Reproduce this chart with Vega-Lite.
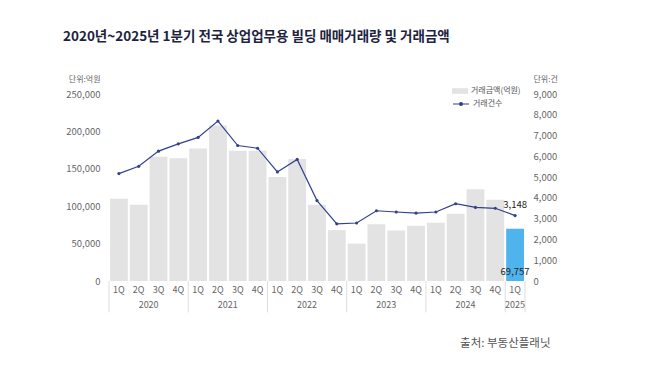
{
"$schema": "https://vega.github.io/schema/vega-lite/v6.json",
"width": 416, "height": 187,
"autosize": {"type": "none"},
"padding": {"left": 109, "top": 94, "right": 133, "bottom": 88},
"background": "white",
"config": {"font": "Noto Sans CJK KR", "view": {"stroke": null}},
"title": {"text": "2020년~2025년 1분기 전국 상업업무용 빌딩 매매거래량 및 거래금액", "anchor": "start", "frame": "group", "dx": -46, "offset": 32, "fontSize": 13.5, "fontWeight": "bold", "color": "#1c2340", "font": "Noto Sans CJK KR"},
"data": {"values": [
{"key": "2020 1Q", "q": "1Q", "year": "2020", "amount": 110000, "count": 5170},
{"key": "2020 2Q", "q": "2Q", "year": "2020", "amount": 102000, "count": 5520},
{"key": "2020 3Q", "q": "3Q", "year": "2020", "amount": 166000, "count": 6250},
{"key": "2020 4Q", "q": "4Q", "year": "2020", "amount": 164000, "count": 6600},
{"key": "2021 1Q", "q": "1Q", "year": "2021", "amount": 177000, "count": 6910},
{"key": "2021 2Q", "q": "2Q", "year": "2021", "amount": 208000, "count": 7700},
{"key": "2021 3Q", "q": "3Q", "year": "2021", "amount": 174000, "count": 6520},
{"key": "2021 4Q", "q": "4Q", "year": "2021", "amount": 174000, "count": 6390},
{"key": "2022 1Q", "q": "1Q", "year": "2022", "amount": 139000, "count": 5250},
{"key": "2022 2Q", "q": "2Q", "year": "2022", "amount": 163000, "count": 5850},
{"key": "2022 3Q", "q": "3Q", "year": "2022", "amount": 102000, "count": 3870},
{"key": "2022 4Q", "q": "4Q", "year": "2022", "amount": 68000, "count": 2750},
{"key": "2023 1Q", "q": "1Q", "year": "2023", "amount": 50000, "count": 2790},
{"key": "2023 2Q", "q": "2Q", "year": "2023", "amount": 76000, "count": 3380},
{"key": "2023 3Q", "q": "3Q", "year": "2023", "amount": 67500, "count": 3320},
{"key": "2023 4Q", "q": "4Q", "year": "2023", "amount": 74000, "count": 3270},
{"key": "2024 1Q", "q": "1Q", "year": "2024", "amount": 78000, "count": 3320},
{"key": "2024 2Q", "q": "2Q", "year": "2024", "amount": 90000, "count": 3720},
{"key": "2024 3Q", "q": "3Q", "year": "2024", "amount": 122500, "count": 3540},
{"key": "2024 4Q", "q": "4Q", "year": "2024", "amount": 108500, "count": 3500},
{"key": "2025 1Q", "q": "1Q", "year": "2025", "amount": 69757, "count": 3148}
]},
"encoding": {
  "x": {"field": "key", "type": "nominal", "scale": {"paddingInner": 0, "paddingOuter": 0},
    "axis": {"domain": false, "ticks": false, "labelAngle": 0, "labelExpr": "split(datum.value, ' ')[1]", "labelFontSize": 9, "labelColor": "#666666", "labelPadding": 4,
      "title": "출처: 부동산플래닛", "titleX": 441, "titleY": 62, "titleAlign": "right", "titleBaseline": "middle", "titleFontSize": 11.5, "titleFontWeight": "normal", "titleColor": "#555555"}}
},
"layer": [
  {"layer": [
    {"transform": [{"filter": "datum.q === '1Q'"}],
     "mark": {"type": "rule", "color": "#dddddd", "strokeWidth": 1},
     "encoding": {"x": {"field": "key", "type": "nominal", "bandPosition": 0},
       "y": {"datum": 0, "type": "quantitative", "scale": {"domain": [0, 250000]},
         "axis": {"orient": "left", "values": [0, 50000, 100000, 150000, 200000, 250000], "labelExpr": "format(datum.value, ',')", "grid": false, "domain": false, "ticks": false, "labelFontSize": 9.5, "labelColor": "#666666", "labelPadding": 9,
           "title": "단위:억원", "titleAngle": 0, "titleAlign": "right", "titleX": -9, "titleY": -15, "titleBaseline": "middle", "titleFontSize": 8, "titleFontWeight": "normal", "titleColor": "#666666"}},
       "y2": {"datum": -42000}}},
    {"transform": [{"filter": "datum.key === '2025 1Q'"}],
     "mark": {"type": "rule", "color": "#dddddd", "strokeWidth": 1},
     "encoding": {"x": {"field": "key", "type": "nominal", "bandPosition": 1},
       "y": {"datum": 0, "type": "quantitative", "scale": {"domain": [0, 250000]},
         "axis": {"orient": "left", "values": [0, 50000, 100000, 150000, 200000, 250000], "labelExpr": "format(datum.value, ',')", "grid": false, "domain": false, "ticks": false, "labelFontSize": 9.5, "labelColor": "#666666", "labelPadding": 9,
           "title": "단위:억원", "titleAngle": 0, "titleAlign": "right", "titleX": -9, "titleY": -15, "titleBaseline": "middle", "titleFontSize": 8, "titleFontWeight": "normal", "titleColor": "#666666"}},
       "y2": {"datum": -42000}}},
    {"mark": {"type": "bar", "width": {"band": 0.9}},
     "encoding": {
       "y": {"field": "amount", "type": "quantitative", "scale": {"domain": [0, 250000]},
         "axis": {"orient": "left", "values": [0, 50000, 100000, 150000, 200000, 250000], "labelExpr": "format(datum.value, ',')", "grid": false, "domain": false, "ticks": false, "labelFontSize": 9.5, "labelColor": "#666666", "labelPadding": 9,
           "title": "단위:억원", "titleAngle": 0, "titleAlign": "right", "titleX": -9, "titleY": -15, "titleBaseline": "middle", "titleFontSize": 8, "titleFontWeight": "normal", "titleColor": "#666666"}},
       "fill": {"condition": {"test": "datum.key === '2025 1Q'", "value": "#4fb3ee"}, "datum": "거래금액(억원)", "type": "nominal",
         "scale": {"range": ["#e3e3e3"]},
         "legend": {"orient": "none", "legendX": 343, "legendY": -11, "title": null, "padding": 0, "symbolType": "M-1,-0.35H1V0.35H-1Z", "symbolSize": 256, "symbolStrokeWidth": 0, "labelFontSize": 8, "labelColor": "#555555", "labelOffset": 3}}
     }},
    {"transform": [{"filter": "datum.key === '2025 1Q'"}],
     "mark": {"type": "text", "fontSize": 9.5, "color": "#222222", "baseline": "middle", "dy": -9},
     "encoding": {"y": {"datum": 0, "type": "quantitative", "scale": {"domain": [0, 250000]},
         "axis": {"orient": "left", "values": [0, 50000, 100000, 150000, 200000, 250000], "labelExpr": "format(datum.value, ',')", "grid": false, "domain": false, "ticks": false, "labelFontSize": 9.5, "labelColor": "#666666", "labelPadding": 9,
           "title": "단위:억원", "titleAngle": 0, "titleAlign": "right", "titleX": -9, "titleY": -15, "titleBaseline": "middle", "titleFontSize": 8, "titleFontWeight": "normal", "titleColor": "#666666"}},
       "text": {"field": "amount", "type": "quantitative", "format": ","}}},
    {"transform": [{"filter": "datum.q === '3Q'"}],
     "mark": {"type": "text", "fontSize": 9, "color": "#666666", "baseline": "middle", "dy": 24},
     "encoding": {"x": {"field": "key", "type": "nominal", "bandPosition": 0},
       "y": {"datum": 0, "type": "quantitative", "scale": {"domain": [0, 250000]},
         "axis": {"orient": "left", "values": [0, 50000, 100000, 150000, 200000, 250000], "labelExpr": "format(datum.value, ',')", "grid": false, "domain": false, "ticks": false, "labelFontSize": 9.5, "labelColor": "#666666", "labelPadding": 9,
           "title": "단위:억원", "titleAngle": 0, "titleAlign": "right", "titleX": -9, "titleY": -15, "titleBaseline": "middle", "titleFontSize": 8, "titleFontWeight": "normal", "titleColor": "#666666"}},
       "text": {"field": "year"}}},
    {"transform": [{"filter": "datum.key === '2025 1Q'"}],
     "mark": {"type": "text", "fontSize": 9, "color": "#666666", "baseline": "middle", "dy": 24},
     "encoding": {"x": {"field": "key", "type": "nominal", "bandPosition": 0.5},
       "y": {"datum": 0, "type": "quantitative", "scale": {"domain": [0, 250000]},
         "axis": {"orient": "left", "values": [0, 50000, 100000, 150000, 200000, 250000], "labelExpr": "format(datum.value, ',')", "grid": false, "domain": false, "ticks": false, "labelFontSize": 9.5, "labelColor": "#666666", "labelPadding": 9,
           "title": "단위:억원", "titleAngle": 0, "titleAlign": "right", "titleX": -9, "titleY": -15, "titleBaseline": "middle", "titleFontSize": 8, "titleFontWeight": "normal", "titleColor": "#666666"}},
       "text": {"field": "year"}}}
  ]},
  {"layer": [
    {"mark": {"type": "line", "strokeWidth": 1.2},
     "encoding": {
       "y": {"field": "count", "type": "quantitative", "scale": {"domain": [0, 9000]},
         "axis": {"orient": "right", "values": [0, 1000, 2000, 3000, 4000, 5000, 6000, 7000, 8000, 9000], "labelExpr": "format(datum.value, ',')", "grid": false, "domain": false, "ticks": false, "labelFontSize": 9.5, "labelColor": "#666666", "labelPadding": 8,
           "title": "단위:건", "titleAngle": 0, "titleAlign": "left", "titleX": 8, "titleY": -15, "titleBaseline": "middle", "titleFontSize": 8, "titleFontWeight": "normal", "titleColor": "#666666"}},
       "stroke": {"datum": "거래건수", "type": "nominal", "scale": {"range": ["#33418c"]},
         "legend": {"orient": "none", "legendX": 343, "legendY": 1, "title": null, "padding": 0, "symbolType": "M-1,0H1M-0.18,0A0.18,0.18,0,1,1,0.18,0A0.18,0.18,0,1,1,-0.18,0Z", "symbolSize": 256, "symbolStrokeWidth": 1.2, "symbolFillColor": "#33418c", "labelFontSize": 8, "labelColor": "#555555", "labelOffset": 3}}
     }},
    {"mark": {"type": "point", "filled": true, "size": 10, "color": "#33418c", "opacity": 1},
     "encoding": {"y": {"field": "count", "type": "quantitative", "scale": {"domain": [0, 9000]},
         "axis": {"orient": "right", "values": [0, 1000, 2000, 3000, 4000, 5000, 6000, 7000, 8000, 9000], "labelExpr": "format(datum.value, ',')", "grid": false, "domain": false, "ticks": false, "labelFontSize": 9.5, "labelColor": "#666666", "labelPadding": 8,
           "title": "단위:건", "titleAngle": 0, "titleAlign": "left", "titleX": 8, "titleY": -15, "titleBaseline": "middle", "titleFontSize": 8, "titleFontWeight": "normal", "titleColor": "#666666"}}}},
    {"transform": [{"filter": "datum.key === '2025 1Q'"}],
     "mark": {"type": "text", "fontSize": 9.5, "color": "#222222", "baseline": "middle", "dy": -11},
     "encoding": {"y": {"field": "count", "type": "quantitative", "scale": {"domain": [0, 9000]},
         "axis": {"orient": "right", "values": [0, 1000, 2000, 3000, 4000, 5000, 6000, 7000, 8000, 9000], "labelExpr": "format(datum.value, ',')", "grid": false, "domain": false, "ticks": false, "labelFontSize": 9.5, "labelColor": "#666666", "labelPadding": 8,
           "title": "단위:건", "titleAngle": 0, "titleAlign": "left", "titleX": 8, "titleY": -15, "titleBaseline": "middle", "titleFontSize": 8, "titleFontWeight": "normal", "titleColor": "#666666"}},
       "text": {"field": "count", "type": "quantitative", "format": ","}}}
  ]}
],
"resolve": {"scale": {"y": "independent"}}
}
